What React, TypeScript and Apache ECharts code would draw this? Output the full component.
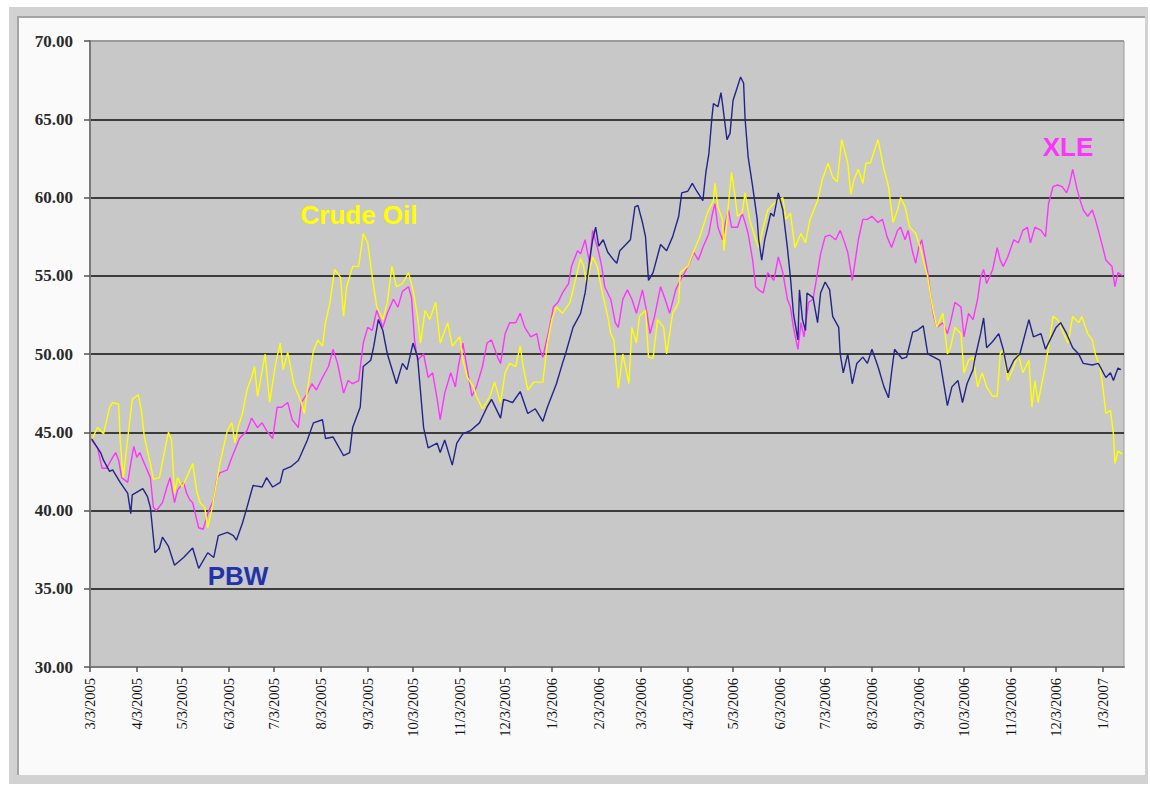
import React, { useEffect, useRef } from "react";
import * as echarts from "echarts";

// Dates are stored as days since 3/3/2005; values are prices.
const START = Date.UTC(2005, 2, 3);

const monthTicks = [
  "2005-03-03", "2005-04-03", "2005-05-03", "2005-06-03", "2005-07-03", "2005-08-03",
  "2005-09-03", "2005-10-03", "2005-11-03", "2005-12-03", "2006-01-03", "2006-02-03",
  "2006-03-03", "2006-04-03", "2006-05-03", "2006-06-03", "2006-07-03", "2006-08-03",
  "2006-09-03", "2006-10-03", "2006-11-03", "2006-12-03", "2007-01-03",
];

const yTicks = [30, 35, 40, 45, 50, 55, 60, 65, 70];

const pbw: [number, number][] = [
  [1, 44.6], [7, 43.7], [9, 43.2], [13, 42.5], [15, 42.6], [20, 41.8], [25, 41.1], [27, 39.8],
  [28, 41.0], [35, 41.4], [38, 40.9], [40, 40.2], [43, 37.3], [46, 37.6], [48, 38.3], [52, 37.7],
  [56, 36.5], [62, 37.0], [68, 37.6], [72, 36.3], [78, 37.3], [82, 37.0], [85, 38.4], [91, 38.6],
  [95, 38.4], [97, 38.1], [101, 39.2], [104, 40.2], [108, 41.6], [114, 41.5], [117, 42.1], [121, 41.5],
  [126, 41.8], [128, 42.6], [133, 42.8], [138, 43.2], [139, 43.4], [144, 44.5], [148, 45.6], [154, 45.8],
  [156, 44.6], [161, 44.7], [168, 43.5], [172, 43.7], [174, 45.3], [179, 46.6], [181, 49.2], [186, 49.6],
  [188, 50.5], [191, 52.2], [194, 51.5], [197, 50.0], [203, 48.1], [207, 49.4], [210, 49.0], [214, 50.7],
  [217, 49.8], [221, 45.3], [224, 44.0], [230, 44.3], [232, 43.7], [235, 44.5], [240, 42.9], [243, 44.3],
  [247, 44.9], [252, 45.1], [258, 45.6], [263, 46.6], [266, 47.1], [272, 45.9], [274, 47.1], [280, 46.9],
  [285, 47.6], [290, 46.2], [295, 46.5], [300, 45.7], [303, 46.6], [309, 48.1], [313, 49.4], [315, 50.0],
  [320, 51.7], [325, 52.6], [328, 53.9], [331, 56.0], [333, 57.3], [335, 58.1], [337, 56.9], [340, 57.3],
  [343, 56.5], [347, 56.0], [349, 55.8], [351, 56.6], [358, 57.3], [361, 59.4], [363, 59.5], [366, 58.4],
  [368, 57.5], [370, 54.7], [373, 55.2], [378, 57.0], [382, 56.6], [386, 57.5], [390, 58.8], [392, 60.3],
  [396, 60.4], [399, 60.9], [402, 60.4], [406, 59.8], [408, 61.6], [410, 62.8], [412, 65.1], [413, 66.0],
  [416, 65.8], [418, 66.7], [419, 66.0], [422, 63.7], [424, 64.1], [426, 66.2], [431, 67.7], [433, 67.3],
  [434, 65.0], [436, 62.6], [439, 60.7], [442, 58.6], [443, 57.3], [445, 56.0], [447, 57.3], [451, 59.0],
  [453, 58.8], [456, 60.3], [459, 59.2], [462, 56.8], [464, 54.9], [466, 52.6], [469, 50.9], [470, 54.1],
  [472, 52.2], [474, 51.5], [475, 53.9], [479, 53.6], [482, 52.0], [484, 53.9], [487, 54.6], [490, 54.1],
  [492, 52.4], [496, 51.7], [497, 50.0], [499, 48.8], [502, 50.0], [505, 48.1], [508, 49.4], [512, 49.8],
  [515, 49.4], [518, 50.3], [522, 49.2], [526, 47.9], [529, 47.2], [531, 48.8], [533, 50.3], [538, 49.7],
  [541, 49.8], [545, 51.4], [548, 51.5], [552, 51.8], [555, 50.0], [559, 49.8], [563, 49.6], [568, 46.7],
  [571, 47.9], [575, 48.3], [578, 46.9], [581, 48.1], [585, 49.0], [586, 49.6], [590, 51.3], [592, 52.3],
  [594, 50.4], [598, 50.8], [602, 51.3], [605, 50.3], [608, 48.8], [612, 49.6], [616, 50.0], [622, 52.2],
  [625, 51.1], [630, 51.3], [633, 50.3], [636, 50.9], [640, 51.7], [643, 52.0], [647, 51.3], [651, 50.4],
  [655, 50.0], [658, 49.4], [664, 49.3], [668, 49.4], [673, 48.5], [676, 48.8], [678, 48.3], [681, 49.1],
  [683, 49.0],
];

const crudeOil: [number, number][] = [
  [1, 44.5], [5, 45.3], [9, 44.9], [13, 46.6], [15, 46.9], [19, 46.8], [20, 44.5], [22, 42.1],
  [25, 44.6], [28, 47.1], [32, 47.4], [34, 46.4], [36, 44.7], [40, 43.0], [42, 42.0], [46, 42.1],
  [50, 44.1], [52, 45.0], [54, 44.5], [56, 41.1], [58, 42.1], [61, 41.5], [64, 42.1], [68, 43.0],
  [71, 41.1], [73, 40.5], [76, 40.2], [78, 38.9], [81, 40.2], [83, 41.3], [86, 43.0], [91, 45.1],
  [94, 45.6], [96, 44.3], [98, 45.3], [101, 46.2], [104, 47.7], [107, 48.5], [109, 49.2], [111, 47.3],
  [116, 50.0], [119, 46.9], [123, 49.4], [126, 50.7], [128, 49.0], [131, 50.1], [135, 48.1], [140, 46.9],
  [142, 46.2], [144, 47.7], [148, 50.2], [151, 50.9], [154, 50.5], [156, 52.0], [159, 53.3], [162, 55.4],
  [166, 54.9], [168, 52.4], [170, 54.3], [174, 55.6], [178, 55.6], [181, 57.7], [184, 57.1], [187, 54.9],
  [190, 53.0], [194, 52.2], [197, 53.3], [200, 55.6], [203, 54.3], [207, 54.5], [211, 55.2], [214, 54.1],
  [217, 52.4], [219, 50.7], [222, 52.8], [225, 52.2], [229, 53.3], [232, 50.7], [237, 52.0], [240, 50.5],
  [245, 51.1], [247, 49.6], [250, 48.5], [254, 47.9], [256, 47.3], [260, 46.5], [265, 47.3], [268, 48.2],
  [272, 46.9], [275, 48.8], [278, 49.4], [282, 49.2], [285, 50.5], [287, 49.2], [290, 47.7], [294, 48.2],
  [300, 48.2], [303, 50.7], [306, 52.2], [309, 53.0], [313, 52.6], [318, 53.3], [321, 54.5], [325, 56.1],
  [327, 55.6], [329, 54.5], [333, 56.2], [336, 55.6], [339, 54.1], [343, 52.4], [345, 51.3], [347, 50.9],
  [350, 47.8], [353, 50.0], [357, 48.1], [359, 51.7], [362, 50.7], [364, 52.4], [368, 52.8], [370, 49.8],
  [373, 49.7], [376, 52.2], [380, 51.7], [382, 50.0], [386, 52.6], [390, 53.3], [391, 55.2], [396, 55.6],
  [401, 56.8], [404, 57.5], [409, 59.0], [413, 59.8], [414, 60.9], [416, 59.4], [419, 58.6], [420, 56.6],
  [422, 58.6], [425, 61.6], [427, 60.3], [429, 58.8], [432, 59.0], [434, 60.3], [437, 58.6], [441, 57.3],
  [443, 56.8], [446, 58.1], [449, 59.2], [453, 59.6], [456, 59.8], [459, 60.0], [461, 58.6], [464, 59.0],
  [467, 56.8], [471, 57.7], [474, 57.1], [477, 58.6], [482, 59.8], [485, 61.1], [489, 62.2], [492, 61.3],
  [495, 61.0], [498, 63.7], [502, 62.2], [504, 60.2], [506, 61.1], [509, 61.8], [512, 60.9], [514, 62.2],
  [517, 62.2], [519, 62.8], [522, 63.7], [526, 61.8], [529, 60.7], [532, 58.4], [535, 59.2], [537, 60.0],
  [540, 59.4], [543, 58.1], [547, 57.7], [550, 56.8], [552, 56.0], [555, 54.9], [557, 53.6], [559, 52.6],
  [561, 51.7], [565, 52.6], [568, 50.0], [570, 50.4], [573, 51.7], [577, 51.3], [579, 48.8], [582, 49.6],
  [585, 49.8], [588, 47.9], [591, 48.8], [594, 47.9], [598, 47.3], [601, 47.3], [603, 50.0], [605, 50.3],
  [608, 48.3], [612, 49.2], [615, 50.0], [618, 48.8], [622, 49.6], [624, 46.6], [626, 48.3], [628, 46.9],
  [632, 48.8], [635, 50.4], [638, 52.4], [641, 52.2], [645, 51.3], [648, 50.7], [651, 52.4], [655, 52.0],
  [657, 52.4], [661, 51.3], [664, 50.9], [666, 50.0], [669, 49.2], [671, 47.9], [673, 46.2], [676, 46.4],
  [678, 44.9], [679, 43.0], [681, 43.8], [684, 43.6],
];

const xle: [number, number][] = [
  [1, 44.5], [5, 44.0], [8, 42.7], [11, 42.7], [15, 43.4], [17, 43.7], [19, 43.2], [21, 42.1],
  [25, 41.8], [27, 43.0], [29, 44.1], [31, 43.4], [33, 43.7], [36, 43.0], [40, 42.1], [42, 40.2],
  [44, 40.0], [48, 40.5], [51, 41.5], [53, 42.1], [56, 40.5], [58, 41.3], [62, 41.8], [64, 41.1],
  [66, 40.7], [68, 40.5], [72, 38.9], [75, 38.8], [78, 39.8], [82, 40.7], [84, 42.0], [86, 42.4],
  [91, 42.6], [94, 43.4], [97, 44.1], [99, 44.6], [104, 45.1], [107, 45.9], [111, 45.3], [114, 45.6],
  [117, 45.1], [121, 44.6], [124, 46.6], [127, 46.6], [131, 46.9], [134, 45.8], [138, 45.3], [140, 46.9],
  [144, 47.5], [147, 48.1], [150, 47.7], [154, 48.5], [158, 49.2], [161, 50.3], [164, 49.4], [168, 47.5],
  [171, 48.3], [174, 48.1], [178, 48.3], [181, 50.7], [184, 51.7], [187, 51.5], [190, 52.8], [194, 51.7],
  [197, 52.6], [201, 53.5], [204, 53.0], [207, 54.0], [211, 54.3], [213, 53.6], [215, 50.9], [217, 49.6],
  [221, 50.0], [224, 48.5], [227, 48.8], [230, 47.1], [232, 45.8], [235, 47.5], [239, 48.8], [242, 47.9],
  [244, 49.2], [247, 50.7], [250, 49.0], [253, 47.3], [256, 47.9], [260, 49.2], [263, 50.7], [266, 50.9],
  [270, 49.8], [272, 49.4], [275, 51.3], [278, 52.0], [282, 52.0], [285, 52.6], [288, 51.7], [292, 51.1],
  [296, 51.3], [298, 50.3], [300, 49.8], [304, 51.5], [307, 53.0], [310, 53.3], [313, 53.9], [317, 54.5],
  [319, 55.6], [323, 56.6], [325, 56.4], [328, 57.3], [331, 55.8], [333, 57.9], [337, 56.5], [339, 55.6],
  [341, 54.3], [345, 53.5], [348, 52.0], [350, 51.7], [353, 53.5], [356, 54.1], [359, 53.5], [362, 52.6],
  [366, 54.1], [369, 52.6], [371, 51.3], [374, 52.4], [378, 54.3], [381, 53.5], [384, 52.6], [388, 54.1],
  [391, 54.7], [394, 55.2], [398, 56.0], [400, 56.5], [403, 56.0], [406, 56.8], [410, 57.7], [412, 58.8],
  [414, 59.6], [416, 58.1], [419, 57.3], [421, 58.4], [423, 59.2], [425, 58.1], [429, 58.1], [432, 59.0],
  [434, 58.4], [436, 57.7], [439, 56.0], [441, 54.3], [443, 54.1], [446, 53.9], [449, 55.2], [453, 54.7],
  [456, 56.2], [459, 55.2], [462, 53.5], [464, 53.0], [466, 51.7], [469, 50.3], [471, 52.0], [473, 51.1],
  [476, 53.3], [479, 53.5], [482, 55.2], [484, 56.4], [487, 57.5], [490, 57.6], [494, 57.3], [497, 57.9],
  [500, 57.1], [502, 56.5], [505, 54.7], [507, 56.0], [509, 57.3], [512, 58.6], [515, 58.6], [518, 58.8],
  [522, 58.4], [525, 58.6], [528, 57.5], [531, 56.8], [535, 57.9], [537, 58.1], [540, 57.3], [542, 57.9],
  [545, 56.5], [547, 55.8], [549, 56.8], [551, 57.3], [555, 55.2], [557, 53.6], [559, 52.4], [561, 51.7],
  [565, 52.0], [568, 51.3], [570, 52.0], [573, 53.3], [577, 53.0], [579, 51.1], [582, 52.6], [585, 52.2],
  [588, 53.5], [590, 54.9], [592, 55.4], [594, 54.5], [598, 55.4], [601, 56.8], [603, 56.0], [605, 55.6],
  [608, 56.2], [612, 57.3], [615, 57.1], [618, 57.9], [621, 58.1], [623, 57.1], [626, 58.1], [630, 57.9],
  [633, 57.5], [635, 59.6], [638, 60.7], [641, 60.8], [644, 60.7], [647, 60.3], [649, 60.9], [651, 61.8],
  [654, 60.5], [656, 59.8], [658, 59.2], [661, 58.8], [664, 59.2], [666, 58.6], [668, 57.9], [671, 56.8],
  [673, 56.0], [675, 55.8], [677, 55.6], [679, 54.3], [681, 55.2], [684, 55.0],
];

const seriesNames = ["XLE", "Crude Oil", "PBW"];
const seriesColors = ["#ff33ff", "#ffff00", "#23238c"];
const seriesData = [xle, crudeOil, pbw];

const DAY = 86400000;
const toOffset = (iso: string) => {
  const [y, m, d] = iso.split("-").map(Number);
  return Math.round((Date.UTC(y, m - 1, d) - START) / DAY);
};
const tickOffsets = monthTicks.map(toOffset);
const fmtOffset = (v: number) => {
  const dt = new Date(START + Math.round(v) * DAY);
  return `${dt.getUTCMonth() + 1}/${dt.getUTCDate()}/${dt.getUTCFullYear()}`;
};

const labelFont = "bold 26px 'Liberation Sans', Arial, sans-serif";

export default function App() {
  const ref = useRef<HTMLDivElement>(null);
  useEffect(() => {
    if (!ref.current) return;
    const chart = echarts.init(ref.current, undefined, { renderer: "svg" });
    const gridColors = yTicks.map((t) => (t === 70 ? "#9a9a9a" : "#3c3c3c"));
    chart.setOption({
      animation: false,
      backgroundColor: "transparent",
      grid: {
        left: 90,
        top: 41,
        right: 26,
        bottom: 118,
        show: true,
        backgroundColor: "#c8c8c8",
        borderColor: "#9a9a9a",
        borderWidth: 1,
      },
      xAxis: {
        type: "value",
        min: 0,
        max: 685,
        axisLine: { show: true, lineStyle: { color: "#7a7a7a", width: 2 } },
        axisTick: {
          show: true,
          customValues: tickOffsets,
          length: 5,
          lineStyle: { color: "#555", width: 1.5 },
        },
        axisLabel: {
          customValues: tickOffsets,
          rotate: 90,
          margin: 11,
          formatter: (v: number) => fmtOffset(v),
          fontFamily: "Liberation Serif",
          fontSize: 14.5,
          color: "#111",
        },
        splitLine: { show: false },
      },
      yAxis: {
        type: "value",
        min: 30,
        max: 70,
        interval: 5,
        axisLine: { show: true, lineStyle: { color: "#7a7a7a", width: 2 } },
        axisTick: { show: true, length: 6, lineStyle: { color: "#555", width: 1.5 } },
        axisLabel: {
          formatter: (v: number) => v.toFixed(2),
          fontFamily: "Liberation Serif",
          fontWeight: "bold",
          fontSize: 17,
          color: "#2a2a2a",
          margin: 17,
        },
        splitLine: { show: true, lineStyle: { color: gridColors, width: 2 } },
      },
      series: seriesNames.map((name, i) => ({
        name,
        type: "line",
        data: seriesData[i],
        showSymbol: false,
        symbol: "none",
        lineStyle: { color: seriesColors[i], width: 1.4 },
        z: 3 + i,
      })),
      graphic: [
        {
          type: "text",
          x: 359,
          y: 215,
          z: 100,
          style: { text: "Crude Oil", fill: "#ffff00", font: labelFont, align: "center", verticalAlign: "middle" },
        },
        {
          type: "text",
          x: 238,
          y: 576,
          z: 100,
          style: { text: "PBW", fill: "#2233aa", font: labelFont, align: "center", verticalAlign: "middle" },
        },
        {
          type: "text",
          x: 1068,
          y: 147,
          z: 100,
          style: { text: "XLE", fill: "#ff33ff", font: labelFont, align: "center", verticalAlign: "middle" },
        },
      ],
    });
    return () => chart.dispose();
  }, []);

  return (
    <div style={{ position: "fixed", left: 0, top: 0, width: 1150, height: 785, background: "#ffffff" }}>
      <div
        style={{
          position: "absolute",
          left: 9,
          top: 7,
          width: 1139,
          height: 777,
          background: "#d2d2d2",
        }}
      />
      <div
        style={{
          position: "absolute",
          left: 17,
          top: 16,
          width: 1126,
          height: 757,
          background: "#fafafa",
          borderLeft: "2px solid #a4a4a4",
          borderTop: "2px solid #a4a4a4",
        }}
      />
      <div ref={ref} style={{ position: "absolute", left: 0, top: 0, width: 1150, height: 785 }} />
    </div>
  );
}
